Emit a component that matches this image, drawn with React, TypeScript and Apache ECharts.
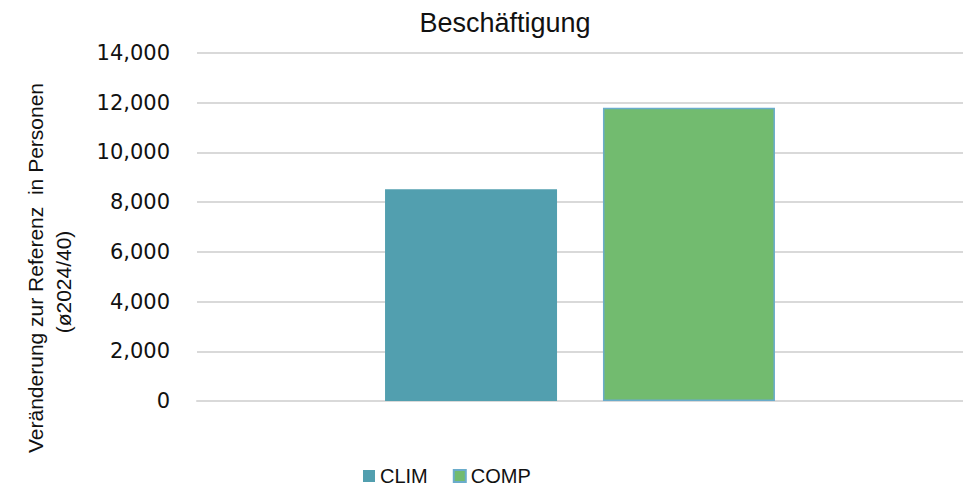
import React, { useEffect, useRef } from "react";
import * as echarts from "echarts";

const categories = ["Beschäftigung"];
const seriesNames = ["CLIM", "COMP"];
const climValues = [8520];
const compValues = [11800];
const yTicks = [0, 2000, 4000, 6000, 8000, 10000, 12000, 14000];
const titleText = "Beschäftigung";
const yTitleLine1 = "Veränderung zur Referenz  in Personen";
const yTitleLine2 = "(ø2024/40)";

export default function App() {
  const ref = useRef<HTMLDivElement>(null);
  useEffect(() => {
    if (!ref.current) return;
    const chart = echarts.init(ref.current, undefined, { renderer: "svg" });
    const fmt = (v: number) => v.toLocaleString("en-US");
    chart.setOption({
      animation: false,
      backgroundColor: "#ffffff",
      grid: { left: 197, right: 0, top: 53, bottom: 86, containLabel: false },
      xAxis: {
        type: "category",
        data: categories,
        axisLabel: { show: false },
        axisTick: { show: false },
        axisLine: { show: true, lineStyle: { color: "#d9d9d9", width: 2 } },
      },
      yAxis: {
        type: "value",
        min: yTicks[0],
        max: yTicks[yTicks.length - 1],
        interval: 2000,
        axisLine: { show: false },
        axisTick: { show: false },
        splitLine: { lineStyle: { color: "#d9d9d9", width: 2 } },
        axisLabel: {
          formatter: (v: number) => fmt(v),
          fontFamily: "DejaVu Sans",
          fontSize: 21,
          color: "#111111",
          margin: 27,
        },
      },
      legend: {
        data: seriesNames,
        left: 358,
        top: 461,
        padding: 5,
        icon: "rect",
        itemWidth: 12,
        itemHeight: 12,
        itemGap: 25,
        textStyle: {
          fontFamily: "Liberation Sans",
          fontSize: 20,
          lineHeight: 20,
          color: "#111111",
          padding: [0, 0, 0, 0],
        },
      },
      graphic: [
        {
          type: "text",
          x: 505,
          y: 23,
          style: {
            text: titleText,
            fontFamily: "Liberation Sans",
            fontSize: 27,
            fill: "#111111",
            textAlign: "center",
            textVerticalAlign: "middle",
          },
        },
        {
          type: "text",
          x: 35,
          y: 268,
          rotation: Math.PI / 2,
          style: {
            text: yTitleLine1,
            fontFamily: "Liberation Sans",
            fontSize: 21,
            fill: "#111111",
            textAlign: "center",
            textVerticalAlign: "middle",
          },
        },
        {
          type: "text",
          x: 63,
          y: 282,
          rotation: Math.PI / 2,
          style: {
            text: yTitleLine2,
            fontFamily: "Liberation Sans",
            fontSize: 21,
            fill: "#111111",
            textAlign: "center",
            textVerticalAlign: "middle",
          },
        },
      ],
      series: [
        {
          name: seriesNames[0],
          type: "bar",
          data: climValues,
          barWidth: 172,
          barGap: "26.7%",
          itemStyle: { color: "#529faf" },
        },
        {
          name: seriesNames[1],
          type: "bar",
          data: compValues,
          barWidth: 172,
          itemStyle: { color: "#72bb6f", borderColor: "#6aaccb", borderWidth: 1.5 },
        },
      ],
    });
    return () => chart.dispose();
  }, []);
  return (
    <div
      ref={ref}
      style={{ position: "fixed", left: 0, top: 0, width: 963, height: 487 }}
    />
  );
}
